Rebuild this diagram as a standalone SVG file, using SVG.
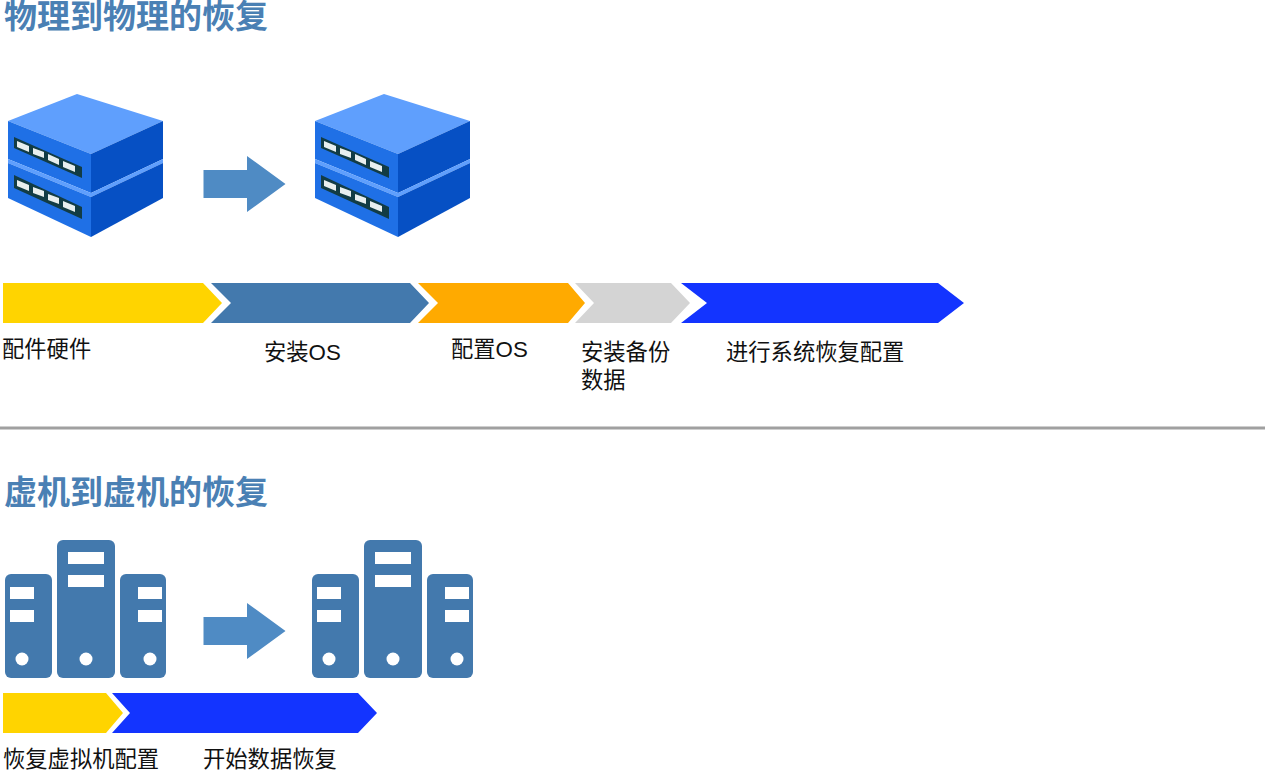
<svg xmlns="http://www.w3.org/2000/svg" xmlns:xlink="http://www.w3.org/1999/xlink" width="1265" height="770" viewBox="0 0 1265 770">
<style>
text{font-family:"Liberation Sans","Noto Sans CJK SC",sans-serif;}
.h{font-size:33px;font-weight:700;fill:#4a80b4;}
.l{font-size:22.3px;fill:#111;}
</style>
<defs>
<g id="rack">
<path d="M77 94L163 121L91 154L8 121Z" fill="#5f9ffd"/>
<path d="M8 121L91 154V193L8 159Z" fill="#1f70e6"/>
<path d="M91 154L163 121V159L91 193Z" fill="#0650c4"/>
<path d="M8 159L91 193L163 159V163L91 197L8 163Z" fill="#5f9ffd"/>
<path d="M8 163L91 197V237L8 198Z" fill="#1f70e6"/>
<path d="M91 197L163 163V198L91 237Z" fill="#0650c4"/>
<path d="M14 137L82 167V178L14 148Z" fill="#123c45"/>
<path d="M14 175L82 207V219L14 188Z" fill="#123c45"/>
<g fill="#e8efef">
<path d="M17 141L29 146V152L17 147Z"/><path d="M33 148L44 152V158L33 154Z"/><path d="M48 154L59 159V165L48 160Z"/><path d="M63 161L75 166V172L63 167Z"/>
<path d="M17 180L29 185V191L17 186Z"/><path d="M33 187L44 191V197L33 193Z"/><path d="M48 194L59 198V204L48 200Z"/><path d="M63 201L75 206V212L63 207Z"/>
</g>
</g>
<g id="tower">
<g fill="#4379ad">
<rect x="5" y="574" width="47" height="104" rx="6"/>
<rect x="57" y="540" width="58" height="138" rx="6"/>
<rect x="120" y="574" width="46" height="104" rx="6"/>
</g>
<g fill="#fff">
<rect x="10" y="587" width="24" height="12"/><rect x="10" y="610" width="24" height="12"/><circle cx="22" cy="659" r="6.5"/>
<rect x="68" y="552" width="36" height="12"/><rect x="68" y="575" width="36" height="12"/><circle cx="86" cy="659" r="6.5"/>
<rect x="138" y="587" width="24" height="12"/><rect x="138" y="610" width="24" height="12"/><circle cx="150" cy="659" r="6.5"/>
</g>
</g>
<path id="arrow" d="M203.500 170H247V156L285.500 184L247 212V198H203.500Z" fill="#4f8bc4"/>
</defs>
<rect width="1265" height="770" fill="#fff"/>
<text class="h" x="4" y="28">物理到物理的恢复</text>
<g id="server-a"><use xlink:href="#rack"/></g>
<g id="arrow-a"><use xlink:href="#arrow"/></g>
<g id="server-b"><use xlink:href="#rack" x="307"/></g>
<g id="connectors">
<path id="step-1" d="M3 283H203L222 303L203 323H3Z" fill="#ffd400"/>
<path id="step-2" d="M211 323L231 303L211 283H410L429 303L410 323Z" fill="#4379ad"/>
<path id="step-3" d="M418 323L438 303L418 283H568L585 303L568 323Z" fill="#ffaa00"/>
<path id="step-4" d="M575 323L594 303L575 283H671L690 303L671 323Z" fill="#d4d4d4"/>
<path id="step-5" d="M681 323L707 303L681 283H938L964 303L938 323Z" fill="#1334ff"/>
<path id="vstep-1" d="M3 693H106L123 713L106 733H3Z" fill="#ffd400"/>
<path id="vstep-2" d="M112 733L130 713L112 693H358L377 713L358 733Z" fill="#1334ff"/>
</g>
<g id="labels-a">
<text class="l" x="2" y="356.500">配件硬件</text>
<text class="l" x="264" y="359.500">安装OS</text>
<text class="l" x="451" y="356.500">配置OS</text>
<text class="l" x="581" y="359.500">安装备份</text>
<text class="l" x="581" y="387.500">数据</text>
<text class="l" x="726" y="359.500">进行系统恢复配置</text>
</g>
<line x1="0" y1="428" x2="1265" y2="428" stroke="#a0a0a0" stroke-width="3"/>
<text class="h" x="4" y="504">虚机到虚机的恢复</text>
<g id="tower-a"><use xlink:href="#tower"/></g>
<g id="arrow-b"><use xlink:href="#arrow" y="447"/></g>
<g id="tower-b"><use xlink:href="#tower" x="307"/></g>
<g id="labels-b">
<text class="l" x="3" y="767">恢复虚拟机配置</text>
<text class="l" x="203" y="767">开始数据恢复</text>
</g>
</svg>
